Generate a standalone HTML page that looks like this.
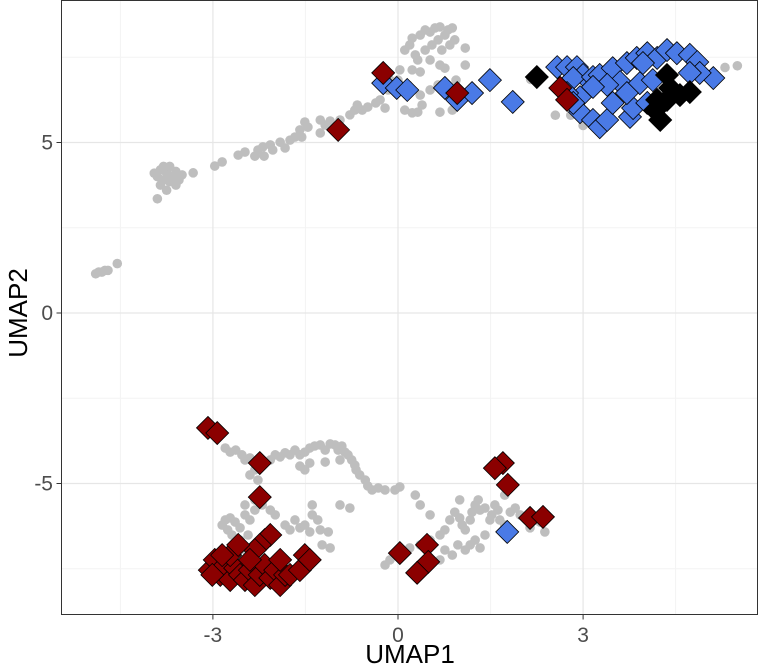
<!DOCTYPE html>
<html><head><meta charset="utf-8"><style>
html,body{margin:0;padding:0;background:#fff;}
svg{display:block;font-family:"Liberation Sans","DejaVu Sans",sans-serif;}
</style></head><body>
<svg id="chart" width="759" height="667" viewBox="0 0 759 667">
<g id="grid"></g>
<g id="marks"></g>
<rect x="61.5" y="0.5" width="696" height="614" fill="none" stroke="#333" stroke-width="1"/>
<g id="axes"></g>
<text x="410" y="663" font-size="26" text-anchor="middle" fill="#000">UMAP1</text>
<text transform="translate(27,313) rotate(-90)" font-size="26" text-anchor="middle" fill="#000">UMAP2</text>
</svg>
<script>
const xTicks=[-3,0,3];
const yTicks=[-5,0,5];
const xMinor=[-4.5,-1.5,1.5,4.5];
const yMinor=[-7.5,-2.5,2.5,7.5];
const grayX=[-4.9,-4.85,-4.8,-4.75,-4.7,-4.55,-3.95,-3.9,-3.85,-3.8,-3.75,-3.7,-3.65,-3.6,-3.55,-3.8,-3.7,-3.85,-3.75,-3.9,-3.5,-3.6,
-3.32,-2.97,-2.85,-2.59,-2.48,-2.27,-2.32,-2.19,-2.07,-2.03,-2.17,-1.91,-1.83,-1.75,-1.67,-1.56,-1.59,-1.51,-1.46,-1.26,-1.18,-1.26,-1.10,-0.94,-0.78,-0.70,-0.66,-0.58,-0.49,-0.36,-0.29,-0.21,-0.16,-0.13,0.11,0.23,0.32,0.39,
0.11,0.19,0.23,0.28,0.36,0.44,0.52,0.60,0.68,0.76,0.81,0.88,0.32,0.44,0.55,0.65,0.71,0.84,0.92,0.23,0.36,0.68,0.76,0.52,0.03,0.00,0.16,1.09,1.09,0.65,0.52,0.36,0.94,1.00,0.88,0.68,
2.15,2.55,2.8,3.1,3.6,3.9,4.9,5.3,5.5,3.0,
-2.80,-2.72,-2.63,-2.53,-2.48,-2.40,-2.27,-2.07,-1.99,-1.91,-1.83,-1.75,-1.67,-1.59,-1.51,-1.43,-1.35,-1.26,-1.18,-1.10,-1.02,-0.97,-0.91,-0.86,-0.81,-0.75,-0.70,-0.68,-0.62,-0.53,-0.49,-0.42,-0.32,-0.21,-1.59,-1.51,-1.43,-0.94,-1.18,-2.32,-2.40,-2.27,
-2.80,-2.85,-2.72,-2.64,-2.56,-2.76,-2.48,-2.40,-2.69,-2.56,-2.43,-2.32,-2.48,-2.32,-2.20,-2.07,-1.99,-1.83,-1.75,-1.67,-1.59,-1.51,-1.43,-1.26,-1.13,-1.30,-1.23,-1.10,-1.39,-0.94,-0.78,-1.39,-2.48,-2.59,-2.69,
-0.05,0.03,0.28,0.36,0.52,
-0.13,-0.21,-0.05,0.03,0.19,0.36,0.52,0.68,0.76,0.84,0.92,1.00,1.04,1.09,1.17,1.20,1.25,1.30,1.33,1.41,1.49,1.52,1.57,1.62,1.65,1.73,1.82,1.90,1.98,1.17,1.25,1.33,1.41,0.97,1.09,0.88,0.68,0.76,0.44,0.36,1.00,1.73,2.22,2.14,2.38,2.30];
const grayY=[1.15,1.2,1.2,1.25,1.25,1.45,4.1,4.0,4.2,3.9,4.1,3.85,4.0,4.15,3.9,4.3,4.3,3.75,3.6,3.35,4.05,3.75,
4.11,4.31,4.43,4.63,4.72,4.78,4.60,4.87,4.93,4.78,4.60,5.01,4.84,5.07,5.16,5.16,5.37,5.60,5.45,5.28,5.51,5.66,5.63,5.66,5.81,5.95,6.10,5.95,6.04,6.16,6.25,6.01,6.54,6.83,5.95,5.87,5.89,6.10,
7.71,7.86,8.06,7.57,8.15,8.30,8.24,8.36,8.39,8.15,8.30,8.36,7.42,7.71,7.86,8.01,7.71,7.86,8.01,7.13,7.07,7.27,7.18,7.42,7.13,6.83,6.69,7.77,7.27,6.69,6.54,6.39,6.83,6.39,5.95,5.89,
6.85,5.8,5.8,5.8,6.4,7.4,7.3,7.2,7.25,5.5,
-3.96,-4.08,-4.02,-4.16,-4.31,-4.25,-4.37,-4.31,-4.16,-4.22,-4.10,-4.16,-4.02,-4.16,-4.08,-3.96,-3.90,-3.87,-4.02,-3.84,-3.87,-4.02,-3.90,-4.08,-4.16,-4.31,-4.46,-4.60,-4.75,-4.90,-5.07,-5.19,-5.13,-5.19,-4.49,-4.60,-4.40,-4.31,-4.37,-4.60,-4.75,-4.90,
-6.07,-6.22,-6.01,-6.13,-6.30,-6.36,-5.92,-6.07,-6.51,-6.66,-6.51,-5.78,-5.63,-5.48,-5.63,-5.78,-5.92,-6.22,-6.36,-6.07,-6.30,-6.22,-6.42,-6.36,-6.42,-6.07,-6.80,-6.89,-5.92,-5.63,-5.72,-5.63,-6.95,-7.24,-6.89,
-5.19,-5.10,-5.34,-5.63,-5.92,
-7.24,-7.39,-7.10,-7.01,-6.89,-6.80,-6.66,-6.51,-6.36,-6.07,-5.84,-6.01,-6.22,-6.36,-6.07,-5.84,-5.63,-5.48,-5.78,-5.72,-6.07,-5.92,-5.63,-5.78,-6.07,-6.22,-5.84,-5.72,-5.92,-6.80,-6.66,-6.89,-6.51,-6.80,-6.95,-7.10,-7.24,-6.95,-7.30,-7.54,-5.48,-5.34,-6.07,-6.30,-6.42,-6.13];
const blueX=[-0.24,-0.02,0.15,0.76,0.96,1.20,1.49,1.86,2.58,2.74,2.90,3.00,2.84,3.16,3.27,3.48,3.71,3.87,4.04,4.20,4.36,4.52,4.73,4.85,5.11,4.89,4.73,3.97,3.60,3.39,3.16,2.95,2.95,3.16,3.27,3.39,3.76,3.81,4.04,3.92,4.13,3.48,3.71,2.74,2.84,1.77];
const blueY=[6.74,6.60,6.54,6.60,6.25,6.45,6.83,6.19,7.21,7.21,7.21,6.98,6.89,6.92,6.98,7.18,7.33,7.48,7.62,7.48,7.71,7.62,7.57,7.36,6.89,7.04,7.04,7.33,6.77,6.69,6.63,6.33,5.89,5.66,5.45,5.66,5.75,6.01,6.16,6.74,6.83,6.16,6.45,6.45,6.16,-6.42];
const redX=[-0.24,0.96,2.63,2.74,-0.97,-3.08,-2.93,-2.24,-2.24,1.70,1.57,1.78,2.14,2.35,0.03,0.47,0.49,0.31,
-3.05,-2.97,-2.88,-2.80,-2.72,-2.64,-2.56,-2.48,-2.40,-2.32,-2.24,-2.16,-2.07,-1.99,-1.91,-1.83,-1.75,-1.59,-1.51,-1.43,-2.16,-2.07,-2.24,-2.32,-2.72,-2.59,-2.85,-3.01,-1.91,-2.40];
const redY=[7.04,6.45,6.60,6.25,5.37,-3.37,-3.52,-4.40,-5.40,-4.40,-4.55,-5.04,-6.01,-5.98,-7.04,-6.80,-7.30,-7.62,
-7.54,-7.24,-7.68,-7.39,-7.83,-7.48,-7.68,-7.83,-7.54,-7.98,-7.68,-7.39,-7.77,-7.54,-7.98,-7.68,-7.68,-7.54,-7.10,-7.24,-6.66,-6.51,-6.80,-6.95,-7.10,-6.80,-7.10,-7.68,-7.24,-7.24];
const blackX=[2.25,4.36,4.25,4.17,4.57,4.73,4.36,4.20,4.41];
const blackY=[6.92,6.98,5.66,5.95,6.39,6.48,6.25,6.25,6.60];

const NS='http://www.w3.org/2000/svg';
const sx=v=>398+61.7*v;
const sy=v=>313-34.1*v;
const X0=61.5,X1=757.5,Y0=0.5,Y1=614.5;
const grid=document.getElementById('grid'),marks=document.getElementById('marks'),axes=document.getElementById('axes');
function mk(tag,attrs,parent){const e=document.createElementNS(NS,tag);for(const k in attrs)e.setAttribute(k,attrs[k]);parent.appendChild(e);return e;}
xMinor.forEach(v=>{const l=mk('line',{x1:sx(v),x2:sx(v),y1:Y0,y2:Y1,stroke:'#f3f3f3','stroke-width':1},grid);

});
yMinor.forEach(v=>{const l=mk('line',{x1:X0,x2:X1,y1:sy(v),y2:sy(v),stroke:'#f3f3f3','stroke-width':1},grid);

});
xTicks.forEach(v=>{const l=mk('line',{x1:sx(v),x2:sx(v),y1:Y0,y2:Y1,stroke:'#e6e6e6','stroke-width':1.2},grid);


const t=mk('line',{x1:sx(v),x2:sx(v),y1:Y1,y2:Y1+5,stroke:'#333'},axes);


const tx=mk('text',{x:sx(v),y:642,'font-size':21,'text-anchor':'middle',fill:'#4d4d4d'},axes);
tx.textContent=v;

});
yTicks.forEach(v=>{const l=mk('line',{x1:X0,x2:X1,y1:sy(v),y2:sy(v),stroke:'#e6e6e6','stroke-width':1.2},grid);


const t=mk('line',{x1:X0-5,x2:X0,y1:sy(v),y2:sy(v),stroke:'#333'},axes);


const tx=mk('text',{x:53,y:sy(v)+7,'font-size':21,'text-anchor':'end',fill:'#4d4d4d'},axes);
tx.textContent=v;

});
grayX.forEach((v,i)=>{const c=mk('circle',{cx:sx(v),cy:sy(grayY[i]),r:4.8,fill:'#bebebe'},marks);

});
function diamond(x,y,fill,name){const s=11.5;const p=mk('polygon',{points:`${x},${y-s} ${x+s},${y} ${x},${y+s} ${x-s},${y}`,fill:fill,stroke:'#000','stroke-width':0.8},marks);

}
blueX.forEach((v,i)=>diamond(sx(v),sy(blueY[i]),'#4a7ae6','blue-diamond'));
redX.forEach((v,i)=>diamond(sx(v),sy(redY[i]),'#8b0000','red-diamond'));
blackX.forEach((v,i)=>diamond(sx(v),sy(blackY[i]),'#000000','black-diamond'));
</script>
</body></html>
